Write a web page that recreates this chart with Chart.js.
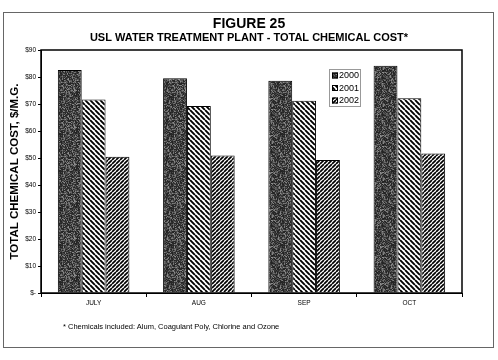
<!DOCTYPE html>
<html>
<head>
<meta charset="utf-8">
<script src="https://cdn.jsdelivr.net/npm/chart.js@4.4.1/dist/chart.umd.min.js"></script>
<style>
  html, body { margin: 0; padding: 0; background: #fff; }
  #wrap { position: relative; width: 498px; height: 360px; }
  #note { position: absolute; left: 63px; top: 322px; font: 7.5px 'Liberation Sans', Arial, sans-serif; color: #000; white-space: nowrap; }
</style>
</head>
<body>
<div id="wrap">
  <canvas id="c" width="498" height="360"></canvas>
  <div id="note">* Chemicals included: Alum, Coagulant Poly, Chlorine and Ozone</div>
</div>
<script>
const categories = ['JULY', 'AUG', 'SEP', 'OCT'];
const years = ['2000', '2001', '2002'];
const cost2000 = [82.6, 79.5, 78.6, 84.2];
const cost2001 = [71.7, 69.3, 71.2, 72.1];
const cost2002 = [50.5, 50.9, 49.3, 51.7];
const yTickValues = [0, 10, 20, 30, 40, 50, 60, 70, 80, 90];

function noisePattern(ctx) {
  const s = 37, c = document.createElement('canvas');
  c.width = s; c.height = s;
  const g = c.getContext('2d');
  const img = g.createImageData(s, s);
  let seed = 12345;
  const next = () => { seed = (seed * 1103515245 + 12345) & 0x7fffffff; return seed / 0x7fffffff; };
  for (let y = 0; y < s; y++) {
    for (let x = 0; x < s; x++) {
      const r = next();
      const v = Math.round(35 + r * r * 110);
      const i = (y * s + x) * 4;
      img.data[i] = img.data[i + 1] = img.data[i + 2] = v;
      img.data[i + 3] = 255;
    }
  }
  g.putImageData(img, 0, 0);
  return ctx.createPattern(c, 'repeat');
}
function stripePattern(ctx, p, lw, back) {
  const c = document.createElement('canvas');
  c.width = p; c.height = p;
  const g = c.getContext('2d');
  g.fillStyle = '#fff'; g.fillRect(0, 0, p, p);
  g.strokeStyle = '#000'; g.lineWidth = lw;
  g.beginPath();
  for (let k = -1; k <= 1; k++) {
    if (back) { g.moveTo(k * p, 0); g.lineTo(k * p + p, p); }
    else { g.moveTo(k * p, p); g.lineTo(k * p + p, 0); }
  }
  g.stroke();
  return ctx.createPattern(c, 'repeat');
}

const canvas = document.getElementById('c');
const ctx = canvas.getContext('2d');
const fills = [noisePattern(ctx), stripePattern(ctx, 5, 1.9, true), stripePattern(ctx, 4, 1.7, false)];
const seriesValues = [cost2000, cost2001, cost2002];

const decor = {
  id: 'decor',
  afterDraw(chart) {
    const c = chart.ctx, ca = chart.chartArea;
    c.save();
    c.strokeStyle = '#000'; c.lineWidth = 1.5;
    c.strokeRect(ca.left, ca.top, ca.right - ca.left, ca.bottom - ca.top);
    c.strokeStyle = '#666'; c.lineWidth = 1;
    c.strokeRect(3.5, 12.5, 490, 335);
    // legend
    const lx = ca.right - 133, ly = ca.top + 19;
    c.strokeStyle = '#999'; c.lineWidth = 1;
    c.strokeRect(lx + 0.5, ly + 0.5, 31, 37);
    c.font = '9px "Liberation Sans", Arial, sans-serif';
    c.textBaseline = 'middle'; c.textAlign = 'left'; c.fillStyle = '#000';
    years.forEach((yr, i) => {
      const ry = ly + 6.5 + i * 12.5;
      c.fillStyle = fills[i];
      c.fillRect(lx + 3, ry - 3, 6, 6);
      c.strokeStyle = '#000';
      c.strokeRect(lx + 3.5, ry - 2.5, 5, 5);
      c.fillStyle = '#000';
      c.fillText(yr, lx + 10, ry + 0.5);
    });
    c.restore();
  }
};

new Chart(ctx, {
  type: 'bar',
  data: {
    labels: categories,
    datasets: years.map((yr, i) => ({
      label: yr,
      data: seriesValues[i],
      backgroundColor: fills[i],
      borderColor: '#000',
      borderWidth: 1,
      categoryPercentage: 0.68,
      barPercentage: 1.0
    }))
  },
  options: {
    responsive: false,
    animation: false,
    devicePixelRatio: 1,
    layout: { padding: { left: 5, right: 5, top: 16, bottom: 0 } },
    plugins: {
      legend: { display: false },
      tooltip: { enabled: false },
      title: {
        display: true, text: 'FIGURE 25', color: '#000',
        font: { family: "'Liberation Sans', Arial, sans-serif", size: 14, weight: 'bold', lineHeight: 1.1 },
        padding: { top: 0, bottom: 1 }
      },
      subtitle: {
        display: true, text: 'USL WATER TREATMENT PLANT - TOTAL CHEMICAL COST*', color: '#000',
        font: { family: "'Liberation Sans', Arial, sans-serif", size: 11, weight: 'bold', lineHeight: 1.0 },
        padding: { top: 0, bottom: 6.6 }
      }
    },
    scales: {
      x: {
        grid: { display: true, drawOnChartArea: false, drawTicks: true, tickLength: 4, color: '#000', offset: true },
        border: { display: true, color: '#000', width: 1 },
        ticks: { color: '#000', padding: 2, font: { family: "'Liberation Sans', Arial, sans-serif", size: 6.5 } },
        afterFit(s) { s.height = 67; }
      },
      y: {
        min: 0, max: 90,
        afterBuildTicks(s) { s.ticks = yTickValues.map(v => ({ value: v })); },
        grid: { display: true, drawOnChartArea: false, drawTicks: true, tickLength: 3, color: '#000' },
        border: { display: true, color: '#000', width: 1 },
        ticks: {
          color: '#000', padding: 2,
          font: { family: "'Liberation Sans', Arial, sans-serif", size: 6.5 },
          callback: v => v === 0 ? '$-' : '$' + v
        },
        title: {
          display: true, text: 'TOTAL CHEMICAL COST, $/M.G.', color: '#000',
          font: { family: "'Liberation Sans', Arial, sans-serif", size: 11.5, weight: 'bold' },
          padding: { top: 3, bottom: 0 }
        },
        afterFit(s) { s.width = 36; }
      },
      y2: {
        position: 'right', display: true,
        grid: { display: false }, border: { display: false }, ticks: { display: false },
        afterFit(s) { s.width = 31; }
      }
    }
  },
  plugins: [decor]
});
</script>
</body>
</html>
